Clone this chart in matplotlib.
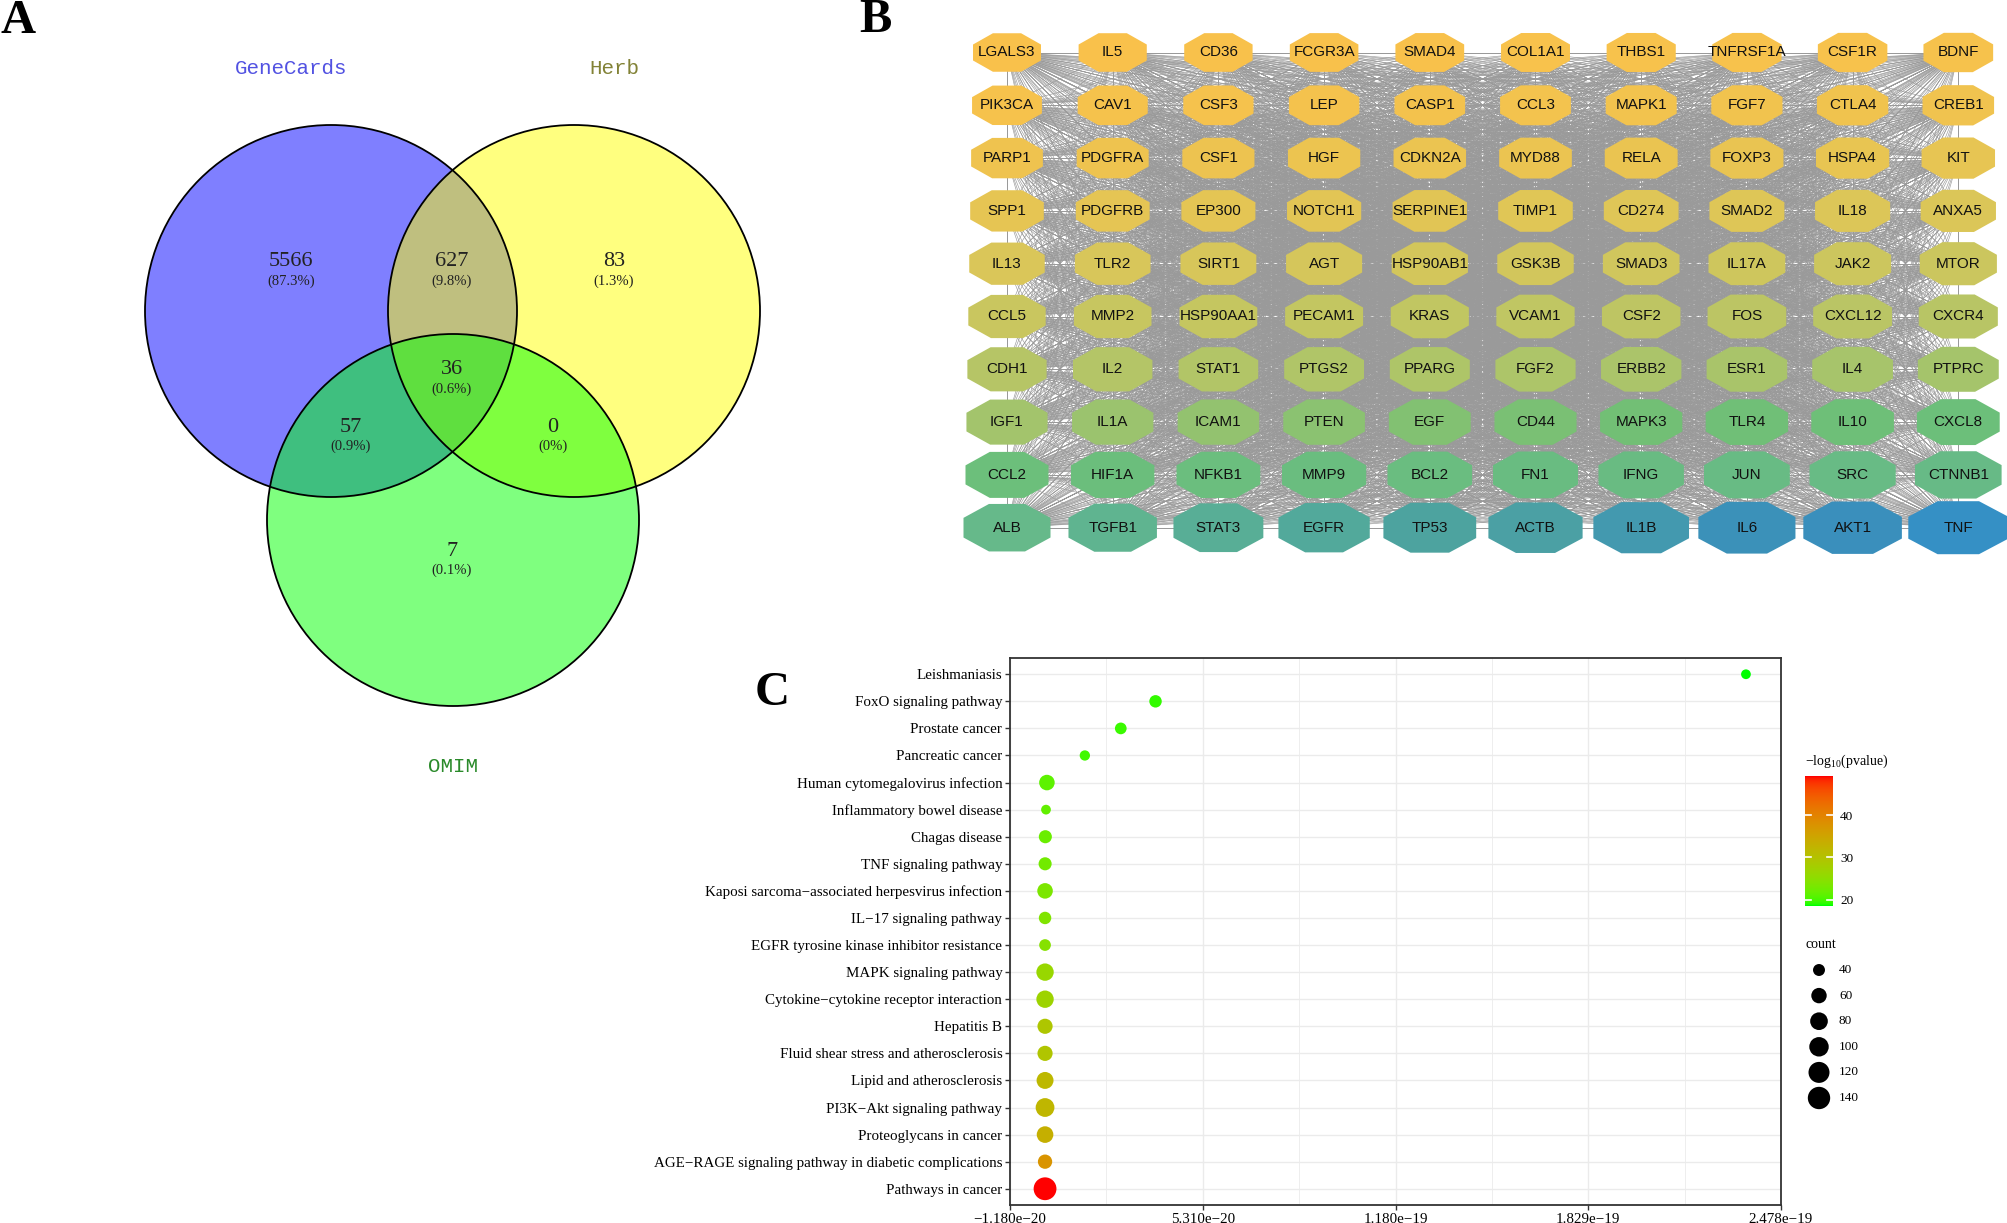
import numpy as np
import matplotlib
matplotlib.use('Agg')
import matplotlib.pyplot as plt
from matplotlib.patches import Circle, Polygon
from matplotlib.collections import LineCollection
from matplotlib.colors import ListedColormap, Normalize
from matplotlib.cm import ScalarMappable

W, H = 2008, 1223
DPI = 100
SERIF = ['Liberation Serif', 'DejaVu Serif']

# ---------------- data ----------------
venn_sets = ['GeneCards', 'Herb', 'OMIM']
venn_regions = ['100', '110', '010', '101', '111', '011', '001']
venn_counts = [5566, 627, 83, 57, 36, 0, 7]

ppi_rows = [
    ['LGALS3', 'IL5', 'CD36', 'FCGR3A', 'SMAD4', 'COL1A1', 'THBS1', 'TNFRSF1A', 'CSF1R', 'BDNF'],
    ['PIK3CA', 'CAV1', 'CSF3', 'LEP', 'CASP1', 'CCL3', 'MAPK1', 'FGF7', 'CTLA4', 'CREB1'],
    ['PARP1', 'PDGFRA', 'CSF1', 'HGF', 'CDKN2A', 'MYD88', 'RELA', 'FOXP3', 'HSPA4', 'KIT'],
    ['SPP1', 'PDGFRB', 'EP300', 'NOTCH1', 'SERPINE1', 'TIMP1', 'CD274', 'SMAD2', 'IL18', 'ANXA5'],
    ['IL13', 'TLR2', 'SIRT1', 'AGT', 'HSP90AB1', 'GSK3B', 'SMAD3', 'IL17A', 'JAK2', 'MTOR'],
    ['CCL5', 'MMP2', 'HSP90AA1', 'PECAM1', 'KRAS', 'VCAM1', 'CSF2', 'FOS', 'CXCL12', 'CXCR4'],
    ['CDH1', 'IL2', 'STAT1', 'PTGS2', 'PPARG', 'FGF2', 'ERBB2', 'ESR1', 'IL4', 'PTPRC'],
    ['IGF1', 'IL1A', 'ICAM1', 'PTEN', 'EGF', 'CD44', 'MAPK3', 'TLR4', 'IL10', 'CXCL8'],
    ['CCL2', 'HIF1A', 'NFKB1', 'MMP9', 'BCL2', 'FN1', 'IFNG', 'JUN', 'SRC', 'CTNNB1'],
    ['ALB', 'TGFB1', 'STAT3', 'EGFR', 'TP53', 'ACTB', 'IL1B', 'IL6', 'AKT1', 'TNF'],
]

kegg_terms = [
    'Leishmaniasis', 'FoxO signaling pathway', 'Prostate cancer', 'Pancreatic cancer',
    'Human cytomegalovirus infection', 'Inflammatory bowel disease', 'Chagas disease',
    'TNF signaling pathway', 'Kaposi sarcoma\u2212associated herpesvirus infection',
    'IL\u221217 signaling pathway', 'EGFR tyrosine kinase inhibitor resistance',
    'MAPK signaling pathway', 'Cytokine\u2212cytokine receptor interaction', 'Hepatitis B',
    'Fluid shear stress and atherosclerosis', 'Lipid and atherosclerosis',
    'PI3K\u2212Akt signaling pathway', 'Proteoglycans in cancer',
    'AGE\u2212RAGE signaling pathway in diabetic complications', 'Pathways in cancer',
]
kegg_pvalue = [2.36e-19, 3.72e-20, 2.55e-20, 1.34e-20, 6.3e-22, 3.2e-22, 1.0e-22,
               2.5e-23, 3.2e-24, 1.6e-24, 4.0e-25, 5.0e-27, 1.3e-27, 5.0e-30,
               2.5e-30, 1.6e-32, 7.9e-33, 5.0e-34, 2.5e-38, 6.3e-50]
kegg_count = [34, 42, 39, 35, 61, 34, 45, 45, 61, 42, 39, 77, 77, 58, 58, 73, 92, 70, 52, 147]
count_breaks = [40, 60, 80, 100, 120, 140]
color_breaks = [20, 30, 40]

# ---------------- helpers ----------------
def srgb_to_lab(rgb):
    c = np.asarray(rgb, float)
    lin = np.where(c <= 0.04045, c / 12.92, ((c + 0.055) / 1.055) ** 2.4)
    M = np.array([[0.4124564, 0.3575761, 0.1804375],
                  [0.2126729, 0.7151522, 0.0721750],
                  [0.0193339, 0.1191920, 0.9503041]])
    xyz = M @ lin / np.array([0.95047, 1.0, 1.08883])
    d = 6 / 29
    f = np.where(xyz > d ** 3, np.cbrt(xyz), xyz / (3 * d * d) + 4 / 29)
    return np.array([116 * f[1] - 16, 500 * (f[0] - f[1]), 200 * (f[1] - f[2])])

def lab_to_srgb(lab):
    L, a, b = lab
    fy = (L + 16) / 116
    fx = fy + a / 500
    fz = fy - b / 200
    d = 6 / 29
    finv = lambda t: t ** 3 if t > d else 3 * d * d * (t - 4 / 29)
    xyz = np.array([0.95047 * finv(fx), finv(fy), 1.08883 * finv(fz)])
    Minv = np.array([[3.2404542, -1.5371385, -0.4985314],
                     [-0.9692660, 1.8760108, 0.0415560],
                     [0.0556434, -0.2040259, 1.0572252]])
    lin = np.clip(Minv @ xyz, 0, 1)
    s = np.where(lin <= 0.0031308, 12.92 * lin, 1.055 * lin ** (1 / 2.4) - 0.055)
    return np.clip(s, 0, 1)

lab_lo = srgb_to_lab([0, 1, 0])
lab_hi = srgb_to_lab([1, 0, 0])
cmap = ListedColormap([lab_to_srgb(lab_lo + (lab_hi - lab_lo) * t) for t in np.linspace(0, 1, 256)])

def dot_px(c):
    c = np.asarray(c, float)
    return 8.4 + 1.35 * np.sqrt(np.clip(c - 33, 0, None))

def px2s(d):
    return (np.asarray(d) * 72 / DPI) ** 2

# ---------------- figure ----------------
fig = plt.figure(figsize=(W / DPI, H / DPI), dpi=DPI)
ax0 = fig.add_axes([0, 0, 1, 1])
ax0.set_xlim(0, W)
ax0.set_ylim(H, 0)
ax0.axis('off')

# panel letters
for lab, (x, y) in zip(['A', 'B', 'C'], [(18, 21), (875, 20), (772, 693)]):
    ax0.text(x, y, lab, fontsize=35, fontweight='bold', family=SERIF, ha='center', va='center')

# ---------------- A: Venn ----------------
circ = {'GeneCards': (331, 311), 'Herb': (574, 311), 'OMIM': (453, 520)}
R = 186
fills = ['#0000FF', '#FFFF00', '#00FF00']
for name, col in zip(venn_sets, fills):
    ax0.add_patch(Circle(circ[name], R, facecolor=col, alpha=0.5, edgecolor='none'))
for name in venn_sets:
    ax0.add_patch(Circle(circ[name], R, facecolor='none', edgecolor='black', lw=1.3))

set_lab_pos = [(291, 68), (614, 68), (453, 766)]
set_lab_col = ['#5252E2', '#828236', '#2A8A2A']
for name, (x, y), col in zip(venn_sets, set_lab_pos, set_lab_col):
    ax0.text(x, y, name, fontsize=15, family=['Liberation Mono', 'DejaVu Sans Mono'],
             color=col, ha='center', va='center')

region_pos = {'100': (291, 262), '110': (452, 262), '010': (614, 262),
              '101': (351, 427), '111': (452, 370), '011': (553, 427), '001': (452, 551)}
total = sum(venn_counts)
for reg, cnt in zip(venn_regions, venn_counts):
    x, y = region_pos[reg]
    pct = cnt / total * 100
    ptxt = '(0%)' if cnt == 0 else f'({pct:.1f}%)'
    ax0.text(x, y, str(cnt), fontsize=16, family=SERIF, color='#222222', ha='center', va='center')
    ax0.text(x, y + 19, ptxt, fontsize=10.5, family=SERIF, color='#222222', ha='center', va='center')

# ---------------- B: PPI network ----------------
genes = [g for row in ppi_rows for g in row]
ng = len(genes)
ncol = len(ppi_rows[0])
rank = np.arange(ng)
cx = 1007 + 105.7 * (rank % ncol)
cy = 52.5 + 52.8 * (rank // ncol)

anc_i = [0, 10, 20, 30, 40, 50, 60, 70, 76, 79, 89, 90, 91, 92, 93, 94, 95, 96, 97, 98, 99]
anc_c = ['#F9C14B', '#F6C24C', '#EFC34F', '#E6C553', '#DAC659', '#C9C65F', '#B6C566', '#A3C46C',
         '#72BF75', '#6CBF7A', '#67BA86', '#66B98A', '#5FB490', '#58AE96', '#52A99B', '#4DA39F',
         '#4BA0A4', '#4399AF', '#3B91B9', '#3A8FBC', '#3590C5']
anc_rgb = np.array([matplotlib.colors.to_rgb(c) for c in anc_c])
node_rgb = np.stack([np.interp(rank, anc_i, anc_rgb[:, k]) for k in range(3)], axis=1)
node_w = np.interp(rank, [0, 80, 90, 99], [68, 83, 87, 100])
node_h = np.interp(rank, [0, 80, 90, 99], [38.5, 46, 47.5, 53])

ii, jj = np.triu_indices(ng, 1)
segs = np.stack([np.stack([cx[ii], cy[ii]], 1), np.stack([cx[jj], cy[jj]], 1)], 1)
ax0.add_collection(LineCollection(segs, colors='#9A9A9A', linewidths=0.45, zorder=2))

ang = np.deg2rad(22.5 + 45 * np.arange(8))
k = 1 / np.cos(np.deg2rad(22.5))
for g, x, y, w, h, col in zip(genes, cx, cy, node_w, node_h, node_rgb):
    pts = np.stack([x + w / 2 * k * np.cos(ang), y + h / 2 * k * np.sin(ang)], 1)
    ax0.add_patch(Polygon(pts, closed=True, facecolor=col, edgecolor='none', zorder=3))
    ax0.text(x, y, g, fontsize=11, family=['Liberation Sans', 'DejaVu Sans'], color='#111111',
             ha='center', va='center', zorder=4)

# ---------------- C: KEGG dot plot ----------------
axC = fig.add_axes([1010 / W, 1 - 1205 / H, (1781 - 1010) / W, (1205 - 658) / H])
n = len(kegg_terms)
ypos = np.arange(n, 0, -1)
pv = np.array(kegg_pvalue)
neglog = -np.log10(pv)
norm = Normalize(neglog.min(), neglog.max())
axC.scatter(pv, ypos, s=px2s(dot_px(kegg_count)), c=neglog, cmap=cmap, norm=norm,
            linewidths=0, zorder=3)
rng = pv.max() - pv.min()
lo, hi = pv.min() - 0.05 * rng, pv.max() + 0.05 * rng
axC.set_xlim(lo, hi)
axC.set_ylim(0.4, n + 0.6)
xt = np.linspace(lo, hi, 5)
axC.set_xticks(xt)
axC.set_xticklabels([f'{v:.3e}'.replace('-', '\u2212') for v in xt], family=SERIF, fontsize=10.8)
axC.set_xticks((xt[:-1] + xt[1:]) / 2, minor=True)
axC.set_yticks(ypos)
axC.set_yticklabels(kegg_terms, family=SERIF, fontsize=10.8)
axC.grid(True, which='major', color='#EBEBEB', lw=1.0, zorder=0)
axC.grid(True, which='minor', axis='x', color='#EBEBEB', lw=0.6, zorder=0)
axC.set_axisbelow(True)
for sp in axC.spines.values():
    sp.set_color('#333333')
    sp.set_linewidth(1.3)
axC.tick_params(which='major', length=3.5, width=1.0, color='#333333', labelcolor='black', pad=2)
axC.tick_params(which='minor', length=0)

# colorbar legend
cax = fig.add_axes([1805 / W, 1 - 905.7 / H, (1833 - 1805) / W, (905.7 - 776) / H])
cb = fig.colorbar(ScalarMappable(norm=norm, cmap=cmap), cax=cax)
cb.outline.set_visible(False)
cb.set_ticks(color_breaks)
cax.tick_params(length=0, labelsize=9.5, pad=5)
for t in cax.get_yticklabels():
    t.set_family(SERIF)
for t in color_breaks:
    cax.plot([0, 0.2], [t, t], color='white', lw=1.2, transform=cax.get_yaxis_transform())
    cax.plot([0.8, 1], [t, t], color='white', lw=1.2, transform=cax.get_yaxis_transform())
ax0.text(1805, 761, r'$\mathregular{-log_{10}(pvalue)}$', fontsize=10, family=SERIF,
         ha='left', va='center')

# size legend
ax0.text(1806, 944, 'count', fontsize=10, family=SERIF, ha='left', va='center')
leg_y = 970 + 25.6 * np.arange(len(count_breaks))
ax0.scatter(np.full(len(count_breaks), 1819), leg_y, s=px2s(dot_px(count_breaks)),
            color='black', linewidths=0)
for v, y in zip(count_breaks, leg_y):
    ax0.text(1839, y, str(v), fontsize=9.5, family=SERIF, ha='left', va='center')

fig.savefig('out.png', dpi=DPI)
